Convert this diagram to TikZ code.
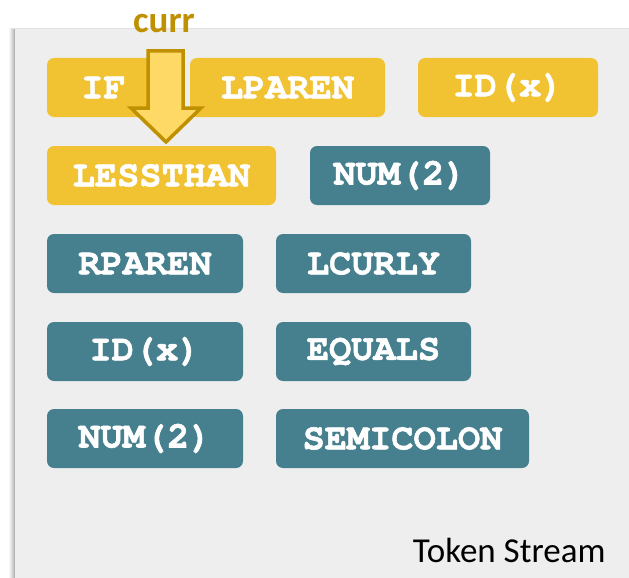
\documentclass[tikz,border=0pt]{standalone}
\usepackage{fontspec}
\newfontfamily\tokfont{texgyrecursor}[Extension=.otf, UprightFont=*-regular,
  BoldFont=*-bold, BoldFeatures={FakeBold=1.5}]
\newfontfamily\calfont{Carlito}
\definecolor{tokyellow}{HTML}{F1C232}
\definecolor{tokteal}{HTML}{46808E}
\definecolor{panelgray}{HTML}{EEEEEE}
\definecolor{arrowfill}{HTML}{FFD966}
\definecolor{arrowedge}{HTML}{BF9000}
\tikzset{
  tok/.style={rounded corners=7pt, inner sep=0pt, minimum height=59pt,
    text=white, font=\tokfont\bfseries\fontsize{37}{37}\selectfont},
  seen/.style={tok, fill=tokyellow},
  todo/.style={tok, fill=tokteal},
}
\begin{document}
\begin{tikzpicture}[x=1pt, y=-1pt]
\useasboundingbox (0,0) rectangle (629,578);
% soft shadow along the panel's left edge, fainter along the top
\foreach \d/\o in {6/0.03, 5/0.04, 4/0.05, 3/0.06, 2/0.07, 1/0.08}
  \fill[black, opacity=\o] (15-\d,29-0.15*\d) rectangle (629,578);
% panel
\fill[panelgray] (15,29) rectangle (629,578);

% tokens already consumed
\node[seen, minimum width=113pt] (if)     at (103.5,87.5) {IF};
\node[seen, minimum width=195pt] (lparen) at (287.5,87.5) {LPAREN};
\node[seen, minimum width=180pt] (idx1)   at (508,87.5)   {ID(x)};
\node[seen, minimum width=229pt] (lt)     at (161.5,175.5) {LESSTHAN};
% remaining tokens
\node[todo, minimum width=180pt] (num1)   at (400,175.5)   {NUM(2)};
\node[todo, minimum width=196pt] (rparen) at (145,263.5)   {RPAREN};
\node[todo, minimum width=195pt] (lcurly) at (373.5,263.5) {LCURLY};
\node[todo, minimum width=196pt] (idx2)   at (145,351.5)   {ID(x)};
\node[todo, minimum width=195pt] (equals) at (373.5,351.5) {EQUALS};
\node[todo, minimum width=196pt] (num2)   at (145,438.5)   {NUM(2)};
\node[todo, minimum width=253pt] (semi)   at (402.5,438.5) {SEMICOLON};

% cursor arrow
\node[anchor=base, text=arrowedge, font=\calfont\bfseries\fontsize{37}{37}\selectfont]
  (curr) at (164,33) {curr};
\draw[fill=arrowfill, draw=arrowedge, line width=3.5pt, miter limit=10]
  (148,51) -- (183,51) -- (183,108) -- (201,108) -- (166,142)
  -- (131,108) -- (148,108) -- cycle;

\node[anchor=base east, font=\calfont\fontsize{35}{35}\selectfont]
  (label) at (609,562) {Token Stream};
\end{tikzpicture}
\end{document}
